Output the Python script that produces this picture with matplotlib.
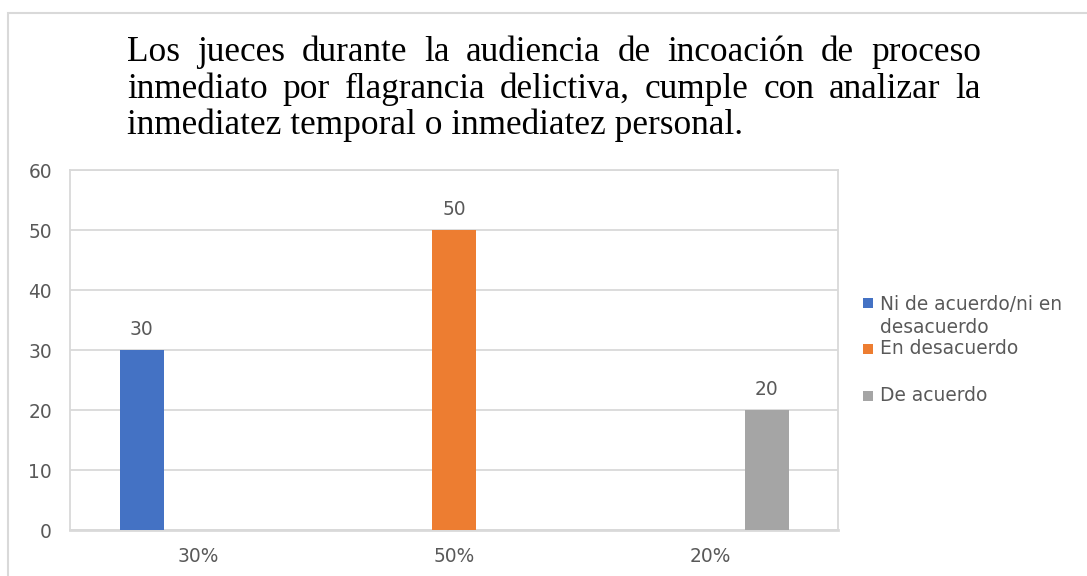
import matplotlib
matplotlib.use("Agg")
import matplotlib.pyplot as plt
from matplotlib.patches import Rectangle

# ---- data ----
categories = ["30%", "50%", "20%"]
series_names = ["Ni de acuerdo/ni en\ndesacuerdo", "En desacuerdo", "De acuerdo"]
series_values = [
    [30, 0, 0],
    [0, 50, 0],
    [0, 0, 20],
]
series_colors = ["#4472C4", "#ED7D31", "#A5A5A5"]
title_lines = [
    "Los jueces durante la audiencia de incoación de proceso",
    "inmediato por flagrancia delictiva, cumple con analizar la",
    "inmediatez temporal o inmediatez personal.",
]
yticks = [0, 10, 20, 30, 40, 50, 60]

W, H = 1087, 576
fig = plt.figure(figsize=(W / 100, H / 100), dpi=100)
fig.patch.set_facecolor("white")

# chart border
fig.patches.append(Rectangle((8 / W, -0.1), 1.2, 1 - 13 / H + 0.1, transform=fig.transFigure,
                             fill=False, edgecolor="#d9d9d9", linewidth=1.5))

ax = fig.add_axes([70 / W, (H - 530) / H, 768 / W, 360 / H])
label_font = "DejaVu Sans"
label_size = 13.4
tick_color = "#595959"
grid_color = "#d9d9d9"

bar_w = 0.172
offsets = [-0.219, 0.0, 0.222]
x = list(range(len(categories)))
for i, (vals, name, col) in enumerate(zip(series_values, series_names, series_colors)):
    bars = ax.bar([xi + offsets[i] for xi in x], vals, width=bar_w, color=col, label=name, zorder=3)
    ax.bar_label(bars, labels=[str(v) if v else "" for v in vals], padding=8,
                 fontsize=label_size, color=tick_color, family=label_font)

ax.set_xlim(-0.5, len(categories) - 0.5)
ax.set_ylim(0, 60)
ax.set_yticks(yticks)
ax.set_xticks(x)
ax.set_xticklabels(categories)
ax.yaxis.grid(True, color=grid_color, linewidth=1.3, zorder=0)
ax.set_axisbelow(True)
for s in ax.spines.values():
    s.set_color(grid_color)
    s.set_linewidth(1.3)
ax.spines["bottom"].set_linewidth(2)
ax.tick_params(axis="both", length=0, labelsize=label_size, labelcolor=tick_color)
ax.tick_params(axis="y", pad=13)
ax.tick_params(axis="x", pad=12)
for lbl in ax.get_xticklabels() + ax.get_yticklabels():
    lbl.set_family(label_font)

# legend (manual)
square_centers = [303, 349, 396]
text_baselines = [333, 354, 401]  # baseline of the last line of each entry
for name, col, yc, yb in zip(series_names, series_colors, square_centers, text_baselines):
    fig.patches.append(Rectangle((863 / W, 1 - (yc + 5) / H), 10 / W, 10 / H, transform=fig.transFigure,
                                 facecolor=col, edgecolor="none"))
    fig.text(880 / W, 1 - yb / H, name, fontsize=label_size, color=tick_color, family=label_font,
             va="baseline", ha="left", linespacing=1.27)

# justified title
fig.canvas.draw()
renderer = fig.canvas.get_renderer()
serif = "Liberation Serif"

def width_px(s, fs):
    t = fig.text(0, 0, s, fontsize=fs, family=serif)
    w = t.get_window_extent(renderer).width
    t.remove()
    return w

x0, x1 = 127, 981
fs = 20 * (745 - 127) / width_px(title_lines[-1], 20)
baselines = [61, 97.5, 134]
for li, (line, yb) in enumerate(zip(title_lines, baselines)):
    words = line.split(" ")
    if li < len(title_lines) - 1:
        ws = [width_px(w_, fs) for w_ in words]
        gap = (x1 - x0 - sum(ws)) / (len(words) - 1)
        xp = x0
        for w_, ww in zip(words, ws):
            fig.text(xp / W, 1 - yb / H, w_, fontsize=fs, family=serif, color="black",
                     ha="left", va="baseline")
            xp += ww + gap
    else:
        fig.text(x0 / W, 1 - yb / H, line, fontsize=fs, family=serif, color="black",
                 ha="left", va="baseline")

fig.savefig("out.png", dpi=100)
